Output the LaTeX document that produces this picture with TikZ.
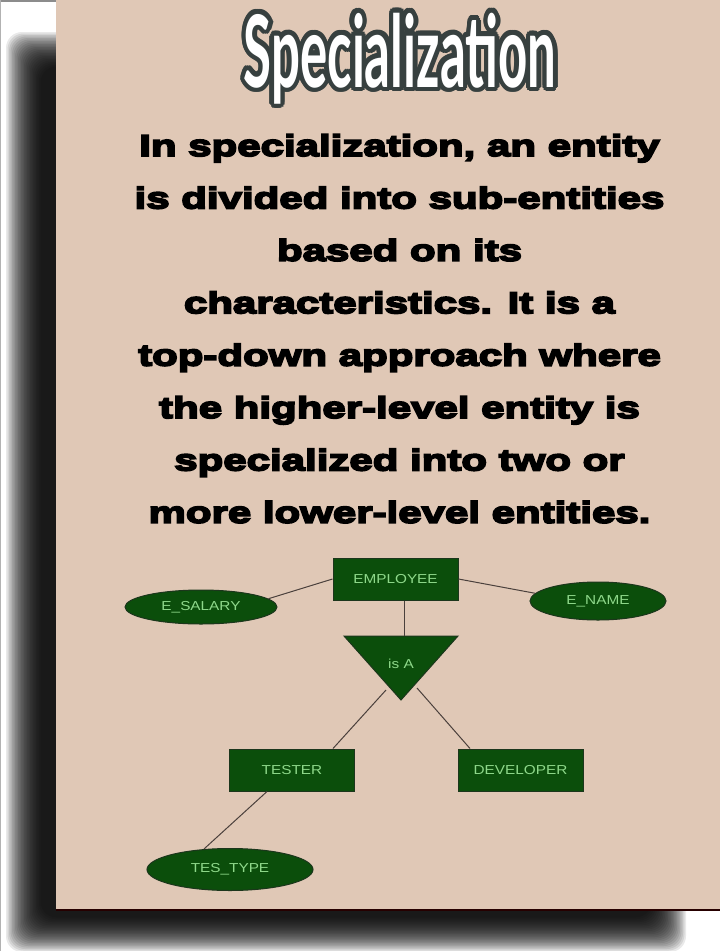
\documentclass[tikz,border=0pt]{standalone}
\usepackage{fontspec}
\usetikzlibrary{shapes.geometric}
\newfontfamily\bodyfont[FakeStretch=1.40,BoldFeatures={FakeBold=6}]{Liberation Sans}
\newfontfamily\titlefont[FakeStretch=0.51]{Lato}
\newfontfamily\diagfont[FakeStretch=1.18]{Liberation Sans}
\definecolor{panel}{HTML}{E0C8B6}
\definecolor{erfill}{HTML}{0B4E0B}
\definecolor{erline}{HTML}{1C361C}
\definecolor{ertext}{HTML}{8ED88A}
\definecolor{link}{HTML}{4A403C}
\definecolor{titleedge}{HTML}{37403F}
\tikzset{
  bodyline/.style={anchor=base, inner sep=0pt, font=\bodyfont\bfseries\fontsize{30}{31}\selectfont, text=black},
  entity/.style={rectangle, draw=erline, line width=1pt, fill=erfill, text=ertext,
    font=\diagfont\fontsize{13}{14}\selectfont, inner sep=0pt},
  attr/.style={ellipse, draw=erline, line width=1pt, fill=erfill, text=ertext,
    font=\diagfont\fontsize{13}{14}\selectfont, inner sep=0pt},
  link/.style={draw=link, line width=1pt},
  titletext/.style={anchor=base, inner sep=0pt, font=\titlefont\bfseries\fontsize{100}{106}\selectfont}
}
\begin{document}
\begin{tikzpicture}[x=1pt,y=-1pt]
\useasboundingbox (0,0) rectangle (720,951);
\fill[white] (0,0) rectangle (720,951);
% soft drop shadow under the card, built from stacked translucent layers
\foreach \k in {0,...,23}
  \fill[black, fill opacity=0.085, rounded corners=16pt]
    (6+1.5*\k,32+1.5*\k) rectangle (686-1.5*\k,952-1.5*\k);
% thin grey frame lines
\draw[gray!90, line width=1.5pt] (0,0.75) -- (56,0.75);
\draw[gray!60, line width=1pt] (0.5,0) -- (0.5,951);
% the card
\fill[panel] (56,0) rectangle (720,910);
\draw[black!85!red, line width=1.2pt] (56,910) -- (720,910);

% heading with dark outline
\foreach \a in {0,22.5,...,337.5}
  \node[titletext, text=titleedge] (edge-\a) at ({400+4.5*cos(\a)},{87+4.5*sin(\a)}) {Specialization};
\node[titletext, text=white] (title) at (400,87) {Specialization};

% description
\node[bodyline] (l1) at (399.5,156) {In specialization, an entity};
\node[bodyline] (l2) at (399.5,208.4) {is divided into sub-entities};
\node[bodyline] (l3) at (399.5,260.8) {based on its};
\node[bodyline] (l4) at (399.5,313.2) {characteristics. It is a};
\node[bodyline] (l5) at (399.5,365.6) {top-down approach where};
\node[bodyline] (l6) at (399.5,418) {the higher-level entity is};
\node[bodyline] (l7) at (399.5,470.4) {specialized into two or};
\node[bodyline] (l8) at (399.5,522.8) {more lower-level entities.};

% ER diagram
\node[entity, minimum width=125pt, minimum height=42pt] (emp) at (395.5,579) {EMPLOYEE};
\node[attr, minimum width=152pt, minimum height=34pt] (sal) at (201,607) {E\_SALARY};
\node[attr, minimum width=136pt, minimum height=38pt] (ename) at (598,601) {E\_NAME};
\fill[erfill, draw=erline, line width=1pt] (344,636) -- (458,636) -- (401,700) -- cycle;
\node[inner sep=0pt, text=ertext, font=\diagfont\fontsize{13}{14}\selectfont] (isa) at (401,664) {is A};
\coordinate (tritop) at (404,636);
\coordinate (isaL) at (386,690);
\coordinate (isaR) at (417,688);
\node[entity, minimum width=125pt, minimum height=42pt] (tester) at (292,770) {TESTER};
\node[entity, minimum width=125pt, minimum height=42pt] (dev) at (520.5,770) {DEVELOPER};
\node[attr, minimum width=166pt, minimum height=42pt] (tes) at (230,869.5) {TES\_TYPE};

\draw[link] (sal.7) -- (emp.west);
\draw[link] (emp.east) -- (ename.173);
\draw[link] (emp.south -| tritop) -- (tritop);
\draw[link] (isaL) -- ([xshift=41pt]tester.north);
\draw[link] (isaR) -- ([xshift=-50.5pt]dev.north);
\draw[link] ([xshift=-25pt]tester.south) -- (tes.142);
\end{tikzpicture}
\end{document}
